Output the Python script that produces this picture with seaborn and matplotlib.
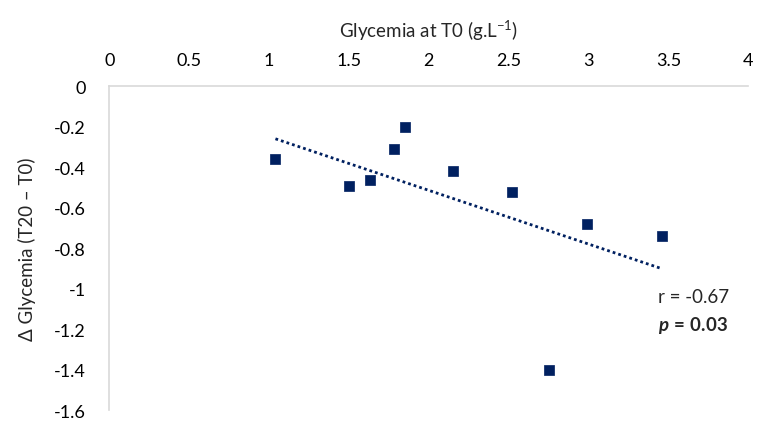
import matplotlib
matplotlib.use("Agg")
import matplotlib.pyplot as plt
import seaborn as sns
import pandas as pd

# Data
glycemia_t0 = [1.04, 1.50, 1.63, 1.78, 1.85, 2.15, 2.52, 2.99, 3.46, 2.75]
delta_glycemia = [-0.36, -0.49, -0.46, -0.31, -0.20, -0.42, -0.52, -0.68, -0.74, -1.40]
x_ticks = [0, 0.5, 1, 1.5, 2, 2.5, 3, 3.5, 4]
x_tick_labels = ["0", "0.5", "1", "1.5", "2", "2.5", "3", "3.5", "4"]
y_ticks = [0, -0.2, -0.4, -0.6, -0.8, -1.0, -1.2, -1.4, -1.6]
y_tick_labels = ["0", "-0.2", "-0.4", "-0.6", "-0.8", "-1", "-1.2", "-1.4", "-1.6"]
r_text = "r = -0.67"
p_value = "0.03"

df = pd.DataFrame({"x": glycemia_t0, "y": delta_glycemia})

sns.set_style("white")
plt.rcParams["font.family"] = ["Lato", "DejaVu Sans"]
plt.rcParams["mathtext.fontset"] = "custom"
plt.rcParams["mathtext.rm"] = "Lato"
plt.rcParams["mathtext.it"] = "Lato:italic"
plt.rcParams["mathtext.bf"] = "Lato:bold"
plt.rcParams["mathtext.bfit"] = "Lato:italic:bold"
plt.rcParams["axes.unicode_minus"] = False

navy = "#002060"
grey = "#D9D9D9"

fig = plt.figure(figsize=(7.67, 4.31), dpi=100)
ax = fig.add_axes([0.1425, 0.0464, 0.8331, 0.7506])

sns.regplot(data=df, x="x", y="y", ax=ax, scatter=False, ci=None, truncate=True,
            line_kws=dict(color=navy, lw=2.0, linestyle=(0, (1, 1.1))))
sns.scatterplot(data=df, x="x", y="y", ax=ax, marker="s", s=55, color=navy,
                edgecolor=navy, linewidth=0.5, zorder=3)

ax.set_xlim(0, 4)
ax.set_ylim(-1.6, 0)
ax.xaxis.tick_top()
ax.xaxis.set_label_position("top")
ax.set_xticks(x_ticks)
ax.set_xticklabels(x_tick_labels)
ax.set_yticks(y_ticks)
ax.set_yticklabels(y_tick_labels)
ax.tick_params(axis="both", length=0, labelsize=13, colors="black")
ax.tick_params(axis="x", pad=13)
ax.tick_params(axis="y", pad=17)

for side in ["right", "bottom"]:
    ax.spines[side].set_visible(False)
for side in ["left", "top"]:
    ax.spines[side].set_visible(True)
    ax.spines[side].set_color(grey)
    ax.spines[side].set_linewidth(1.2)
ax.grid(False)

ax.set_xlabel(r"Glycemia at T0 (g.L$^{\mathrm{-1}}$)", fontsize=13.5, labelpad=11)
ax.set_ylabel("\u0394 Glycemia (T20 \u2013 T0)", fontsize=13.5, labelpad=13)

ax.text(3.435, -1.04, r_text, fontsize=13.5, ha="left", va="center")
ax.text(3.435, -1.175, r"$\boldsymbol{p}\,\mathbf{=}\,\mathbf{" + p_value + r"}$",
        fontsize=13.5, ha="left", va="center")

fig.savefig("out.png", dpi=100)
